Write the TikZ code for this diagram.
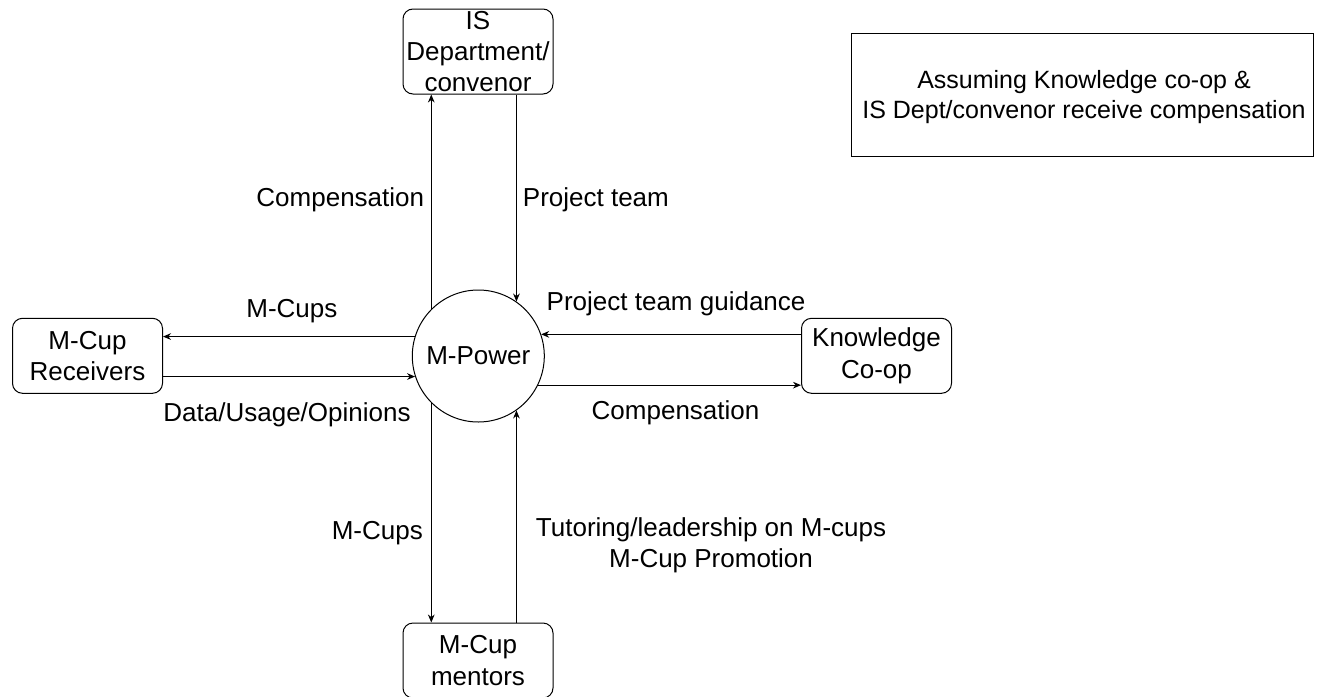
\documentclass[tikz,border=0pt]{standalone}
\usepackage{fontspec}
\setmainfont{Liberation Sans}
\usepackage{tikz}
\usetikzlibrary{calc, arrows.meta, shapes}
\tikzset{>={Stealth[length=6pt,width=5pt]}}

\begin{document}
\begin{tikzpicture}
[x=0.75pt, y=-0.75pt, line width=0.75pt,
 font=\fontsize{19.5pt}{23.4pt}\selectfont,
 party/.style={draw, rounded corners=7.5pt, align=center, inner sep=0pt,
   minimum width=112.5pt, minimum height=56.25pt},
 hub/.style={draw, circle, inner sep=0pt, minimum size=99pt},
 flow/.style={->},
 lbl/.style={inner sep=0pt, align=center}]
\useasboundingbox (0,0) rectangle (1317,696);

\node[hub] (mp) at (478.3,356) {M-Power};
\node[party, minimum height=63.75pt] (is) at (478,51.5) {IS\\Department/\\convenor};
\node[party] (rcv) at (87.5,355.8) {M-Cup\\Receivers};
\node[party] (kc) at (876.5,355.8) {Knowledge\\Co-op};
\node[party] (mnt) at (478,660.5) {M-Cup\\mentors};
\node[draw, minimum width=346.5pt, minimum height=92.5pt] (note) at (1082,95) {};
\node[lbl, font=\fontsize{18.75pt}{22.5pt}\selectfont] (notetxt) at (1084,97.5)
 {Assuming Knowledge co-op \&\\IS Dept/convenor receive compensation};

% up and down
\draw[flow] (mp.135.4) -- node[lbl, midway, anchor=east, xshift=-5pt, yshift=1.5pt] {Compensation} (mp.135.4 |- is.south);
\draw[flow] (mp.55.9 |- is.south) -- node[lbl, midway, anchor=west, xshift=4.5pt, yshift=-1.5pt] {Project team} (mp.55.9);
\draw[flow] (mp.-135.4) -- node[lbl, midway, anchor=east, xshift=-6pt, yshift=-15pt] {M-Cups} (mp.-135.4 |- mnt.north);
\draw[flow] (mp.-55.9 |- mnt.north) -- node[lbl, midway, anchor=west, xshift=14.25pt, yshift=-21.75pt] {Tutoring/leadership on M-cups\\M-Cup Promotion} (mp.-55.9);

% left and right
\draw[flow] (mp.163.9) -- node[lbl, midway, yshift=19pt, xshift=2.25pt] {M-Cups} (mp.163.9 -| rcv.east);
\draw[flow] (mp.-162.7 -| rcv.east) -- node[lbl, midway, yshift=-28.5pt, xshift=-1.5pt] {Data/Usage/Opinions} (mp.-162.7);
\draw[flow] (mp.19.5 -| kc.west) -- node[lbl, midway, yshift=23.25pt, xshift=3.75pt] {Project team guidance} (mp.19.5);
\draw[flow] (mp.-26.1) -- node[lbl, midway, yshift=-21pt, xshift=4.5pt] {Compensation} (mp.-26.1 -| kc.west);
\end{tikzpicture}
\end{document}
